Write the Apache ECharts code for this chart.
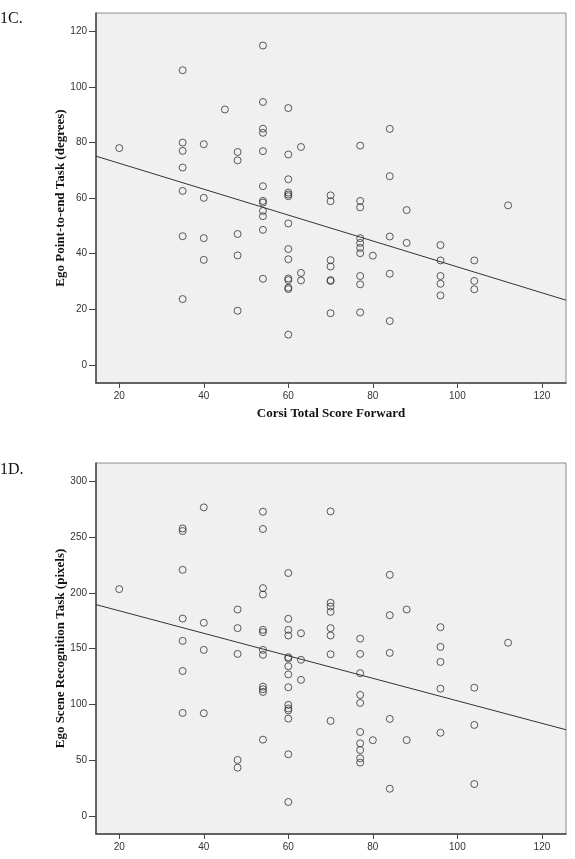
<!DOCTYPE html>
<html>
<head>
<meta charset="utf-8">
<script src="https://cdn.jsdelivr.net/npm/echarts@6/dist/echarts.min.js"></script>
<style>
  html, body { margin: 0; padding: 0; background: #fff; }
  #chart { width: 575px; height: 859px; }
</style>
</head>
<body>
<div id="chart"></div>
<script>
// Corsi forward score columns and the two outcome measures
const corsiC = [
  20,
  35, 35, 35, 35, 35, 35, 35,
  40, 40, 40, 40,
  45,
  48, 48, 48, 48, 48,
  54, 54, 54, 54, 54, 54, 54, 54, 54, 54, 54, 54,
  60, 60, 60, 60, 60, 60, 60, 60, 60, 60, 60, 60, 60, 60,
  63, 63, 63,
  70, 70, 70, 70, 70, 70, 70,
  77, 77, 77, 77, 77, 77, 77, 77, 77, 77,
  80,
  84, 84, 84, 84, 84,
  88, 88,
  96, 96, 96, 96, 96,
  104, 104, 104,
  112
];
const egoPoint = [
  78,
  106, 80, 77, 71, 62.6, 46.3, 23.7,
  79.4, 60.1, 45.6, 37.8,
  91.9,
  76.6, 73.6, 47.1, 39.4, 19.5,
  114.9, 94.6, 85, 83.5, 76.9, 64.3, 59, 58.4, 55.4, 53.5, 48.6, 31,
  92.4, 75.7, 66.8, 62, 61.3, 60.7, 50.9, 41.7, 38, 31.1, 30.5, 27.8, 27.3, 10.9,
  78.4, 33.1, 30.4,
  61, 58.9, 37.7, 35.4, 30.5, 30.2, 18.6,
  78.9, 59, 56.7, 45.6, 43.9, 42.1, 40.2, 32, 29, 18.9,
  39.3,
  84.9, 67.9, 46.2, 32.8, 15.8,
  55.7, 43.9,
  43.1, 37.6, 32, 29.2, 25,
  37.6, 30.2, 27.2,
  57.4
];
const regC = [[14.5, 75.1], [125.7, 23.3]];

const corsiD = [
  20,
  35, 35, 35, 35, 35, 35, 35,
  40, 40, 40, 40,
  48, 48, 48, 48, 48,
  54, 54, 54, 54, 54, 54, 54, 54, 54, 54, 54, 54,
  60, 60, 60, 60, 60, 60, 60, 60, 60, 60, 60, 60, 60, 60, 60,
  63, 63, 63,
  70, 70, 70, 70, 70, 70, 70, 70,
  77, 77, 77, 77, 77, 77, 77, 77, 77, 77,
  80,
  84, 84, 84, 84, 84,
  88, 88,
  96, 96, 96, 96, 96,
  104, 104, 104,
  112
];
const egoScene = [
  203.4,
  257.8, 255.5, 220.7, 177, 157, 130, 92.4,
  276.7, 173.2, 148.9, 92.1,
  185.1, 168.4, 145.3, 50.2, 43.3,
  272.8, 257.3, 204.3, 198.6, 166.9, 164.8, 148.9, 144.5, 116, 113.6, 111.2, 68.4,
  217.8, 176.8, 166.9, 161.8, 142.4, 141.2, 134.2, 126.9, 115.4, 99.6, 96.4, 94.6, 87.3, 55.3, 12.5,
  163.8, 140, 122,
  273.1, 191.1, 187.8, 183, 168.4, 161.8, 145, 85.2,
  159, 145.3, 128, 108.5, 101.3, 75.3, 65.1, 59.1, 51.7, 47.8,
  67.9,
  216.2, 180, 146.2, 87, 24.4,
  185.1, 68,
  169.3, 151.6, 138.1, 114.1, 74.6,
  115, 81.6, 28.6,
  155.3
];
const regD = [[14.5, 189.5], [125.7, 77.3]];

const xTicks = [20, 40, 60, 80, 100, 120];
const yTicksC = [0, 20, 40, 60, 80, 100, 120];
const yTicksD = [0, 50, 100, 150, 200, 250, 300];

const serif = "'Liberation Serif', 'DejaVu Serif', serif";
const sans = "'Liberation Sans', Arial, sans-serif";
const ink = "#333";

function xAxisFor(gridIndex, name) {
  return {
    type: "value",
    gridIndex,
    min: 14.5,
    max: 125.7,
    name,
    nameLocation: "middle",
    nameGap: 24,
    nameMoveOverlap: false,
    nameTextStyle: { fontFamily: serif, fontWeight: "bold", fontSize: 13, color: "#111" },
    axisLine: { onZero: false, lineStyle: { color: "#444", width: 1.5 } },
    axisTick: { customValues: xTicks, length: 5, lineStyle: { color: "#444" } },
    axisLabel: { customValues: xTicks, fontFamily: sans, fontSize: 10, color: ink, margin: 8 },
    splitLine: { show: false },
  };
}

function yAxisFor(gridIndex, min, max, ticks, name) {
  return {
    type: "value",
    gridIndex,
    min,
    max,
    name,
    nameLocation: "middle",
    nameRotate: 90,
    nameGap: 29,
    nameMoveOverlap: false,
    nameTextStyle: { fontFamily: serif, fontWeight: "bold", fontSize: 13, color: "#111" },
    axisLine: { onZero: false, lineStyle: { color: "#444", width: 1.5 } },
    axisTick: { customValues: ticks, length: 7, lineStyle: { color: "#444" } },
    axisLabel: { customValues: ticks, fontFamily: sans, fontSize: 10, color: ink, margin: 9 },
    splitLine: { show: false },
  };
}

function pairs(xs, ys) {
  return xs.map((x, i) => [x, ys[i]]);
}

const dot = {
  type: "scatter",
  symbol: "circle",
  symbolSize: 7,
  itemStyle: { color: "rgba(0,0,0,0)", borderColor: ink, borderWidth: 1 },
  silent: true,
};
const fit = {
  type: "line",
  symbol: "none",
  lineStyle: { color: ink, width: 1 },
  silent: true,
};

const ch = echarts.init(document.getElementById("chart"), null, { renderer: "canvas" });
ch.setOption({
  animation: false,
  backgroundColor: "#fff",
  grid: [
    { left: 96, top: 13, right: 9, height: 370, show: true, backgroundColor: "#f0f0f0", borderColor: "#8c8c8c", borderWidth: 1 },
    { left: 96, top: 463, right: 9, height: 371, show: true, backgroundColor: "#f0f0f0", borderColor: "#8c8c8c", borderWidth: 1 },
  ],
  xAxis: [
    xAxisFor(0, "Corsi Total Score Forward"),
    xAxisFor(1, ""),
  ],
  yAxis: [
    yAxisFor(0, -6.5, 126.6, yTicksC, "Ego Point-to-end Task (degrees)"),
    yAxisFor(1, -16.2, 316.5, yTicksD, "Ego Scene Recognition Task (pixels)"),
  ],
  graphic: [
    { type: "text", left: 0, top: 11, style: { text: "1C.", fontFamily: serif, fontSize: 16, fill: "#111" } },
    { type: "text", left: 0, top: 462, style: { text: "1D.", fontFamily: serif, fontSize: 16, fill: "#111" } },
  ],
  series: [
    { ...dot, xAxisIndex: 0, yAxisIndex: 0, data: pairs(corsiC, egoPoint) },
    { ...fit, xAxisIndex: 0, yAxisIndex: 0, data: regC },
    { ...dot, xAxisIndex: 1, yAxisIndex: 1, data: pairs(corsiD, egoScene) },
    { ...fit, xAxisIndex: 1, yAxisIndex: 1, data: regD },
  ],
});
</script>
</body>
</html>
